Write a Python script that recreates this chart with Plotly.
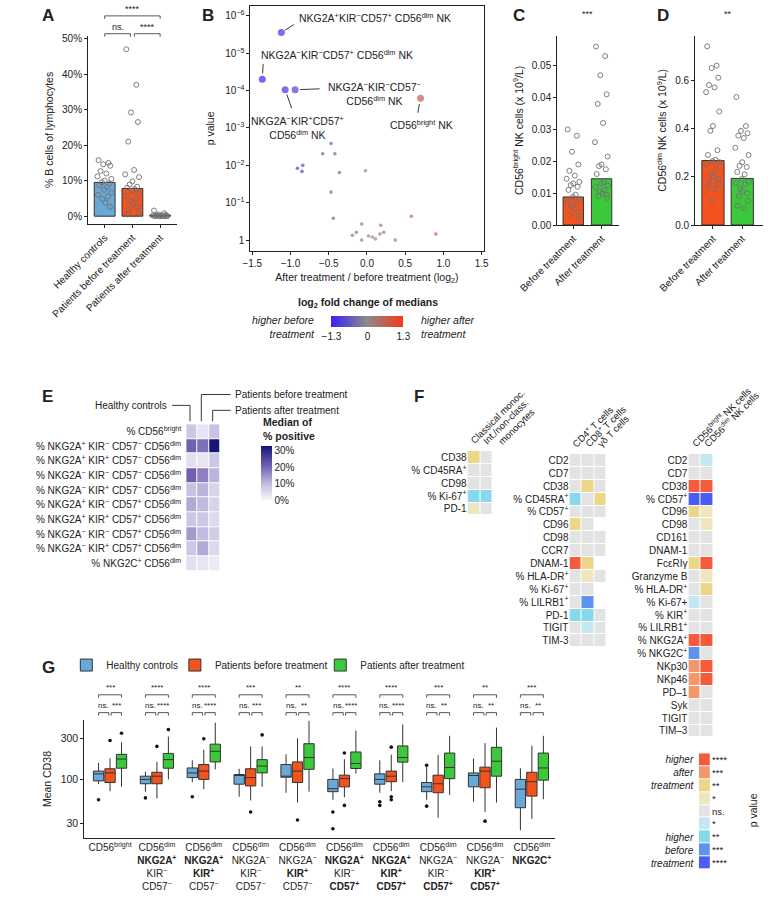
import math
import plotly.graph_objects as go

W, H = 768, 899
FONT = "Liberation Sans, Arial, Helvetica, sans-serif"
INK = "#222222"


def PX(x):
    return x / W


def PY(y):
    return 1 - y / H


def xd(a, b):
    return [a / W, b / W]


def yd(t, b):
    return [1 - b / H, 1 - t / H]


HC_C = "#6aa8d8"
PB_C = "#f5531d"
PA_C = "#3bc93b"
EDGE = "#333333"
PT_C = "#707070"

# ---------------- Panel A data ----------------
A_cats = ["Healthy controls", "Patients before treatment", "Patients after treatment"]
A_bar = [9.5, 7.8, 0.3]
A_hc = [15.8, 15.0, 14.6, 14.2, 12.7, 12.0, 11.2, 10.5, 10.0, 9.6, 9.2, 8.7, 8.2,
        7.4, 6.6, 6.0, 5.5, 4.8, 3.8, 2.6]
A_pb = [47.0, 37.0, 29.2, 26.5, 21.0, 13.0, 11.8, 11.0, 9.8, 8.9, 8.3, 8.0, 7.6,
        7.2, 6.5, 5.8, 5.0, 4.2, 3.4, 2.6, 1.8, 1.0, 0.5]
A_pa = [1.6, 0.8, 0.5, 0.4, 0.3, 0.2, 0.2, 0.1, 0.1, 0.1, 0.0, 0.0, 0.0, 0.0, 0.0]
A_yticks = [0, 10, 20, 30, 40, 50]
A_ytext = ["0%", "10%", "20%", "30%", "40%", "50%"]

# ---------------- Panel B data ----------------
B_fc = [-1.12, -1.37, -1.07, -0.94, 0.70,
        -0.47, -0.58, -0.42, -0.91, -0.84, -0.85, -0.36, -0.02, -0.47, -0.44,
        -0.19, -0.14, -0.07, -0.07, 0.02, 0.07, 0.11, 0.18, 0.17, 0.22, 0.37,
        0.58, 0.90]
B_p = [2.8e-6, 5.0e-5, 9.5e-5, 9.5e-5, 1.6e-4,
       2.6e-3, 4.9e-3, 4.9e-3, 1.2e-2, 1.0e-2, 1.45e-2, 1.55e-2, 1.4e-2, 5.2e-2,
       0.26, 0.74, 0.62, 0.37, 1.0, 0.78, 0.83, 0.93, 0.40, 0.69, 0.62, 1.0,
       0.23, 0.69]
B_labels = [
    "NKG2A<sup>+</sup>KIR<sup>−</sup>CD57<sup>+</sup> CD56<sup>dim</sup> NK",
    "NKG2A<sup>−</sup>KIR<sup>−</sup>CD57<sup>+</sup> CD56<sup>dim</sup> NK",
    "NKG2A<sup>−</sup>KIR<sup>+</sup>CD57<sup>+</sup><br>CD56<sup>dim</sup> NK",
    "NKG2A<sup>−</sup>KIR<sup>−</sup>CD57<sup>−</sup><br>CD56<sup>dim</sup> NK",
    "CD56<sup>bright</sup> NK",
]
B_xticks = [-1.5, -1.0, -0.5, 0.0, 0.5, 1.0, 1.5]
B_xtext = ["−1.5", "−1.0", "−0.5", "0.0", "0.5", "1.0", "1.5"]
B_yticks = [1e-6, 1e-5, 1e-4, 1e-3, 1e-2, 1e-1, 1]
B_ytext = ["10<sup>−6</sup>", "10<sup>−5</sup>", "10<sup>−4</sup>", "10<sup>−3</sup>",
           "10<sup>−2</sup>", "10<sup>−1</sup>", "1"]

# ---------------- Panel C / D data ----------------
CD_cats = ["Before treatment", "After treatment"]
C_bar = [0.0088, 0.0145]
C_before = [0.030, 0.028, 0.023, 0.019, 0.017, 0.0155, 0.0145, 0.0135, 0.013, 0.0125,
            0.012, 0.011, 0.0095, 0.0088, 0.008, 0.0075, 0.007, 0.006, 0.005, 0.004,
            0.003, 0.002]
C_after = [0.056, 0.053, 0.047, 0.041, 0.038, 0.032, 0.026, 0.0215, 0.019, 0.0185,
           0.0175, 0.016, 0.0135, 0.013, 0.0125, 0.012, 0.011, 0.0105, 0.010, 0.0095,
           0.009, 0.0085]
C_yticks = [0, 0.01, 0.02, 0.03, 0.04, 0.05]
C_ytext = ["0.00", "0.01", "0.02", "0.03", "0.04", "0.05"]
D_bar = [0.267, 0.193]
D_before = [0.74, 0.66, 0.65, 0.61, 0.58, 0.57, 0.55, 0.47, 0.41, 0.39, 0.31, 0.29,
            0.27, 0.265, 0.26, 0.25, 0.23, 0.21, 0.20, 0.19, 0.18, 0.17, 0.16, 0.15, 0.10]
D_after = [0.53, 0.41, 0.39, 0.38, 0.37, 0.36, 0.32, 0.29, 0.26, 0.245, 0.24, 0.22,
           0.21, 0.19, 0.18, 0.175, 0.17, 0.15, 0.14, 0.13, 0.12, 0.10, 0.08, 0.07]
D_yticks = [0, 0.2, 0.4, 0.6]
D_ytext = ["0.0", "0.2", "0.4", "0.6"]

# ---------------- Panel E data ----------------
E_rows = [
    "% CD56<sup>bright</sup>",
    "% NKG2A<sup>+</sup> KIR<sup>−</sup> CD57<sup>−</sup> CD56<sup>dim</sup>",
    "% NKG2A<sup>+</sup> KIR<sup>+</sup> CD57<sup>−</sup> CD56<sup>dim</sup>",
    "% NKG2A<sup>−</sup> KIR<sup>−</sup> CD57<sup>−</sup> CD56<sup>dim</sup>",
    "% NKG2A<sup>−</sup> KIR<sup>+</sup> CD57<sup>−</sup> CD56<sup>dim</sup>",
    "% NKG2A<sup>+</sup> KIR<sup>−</sup> CD57<sup>+</sup> CD56<sup>dim</sup>",
    "% NKG2A<sup>+</sup> KIR<sup>+</sup> CD57<sup>+</sup> CD56<sup>dim</sup>",
    "% NKG2A<sup>−</sup> KIR<sup>−</sup> CD57<sup>+</sup> CD56<sup>dim</sup>",
    "% NKG2A<sup>−</sup> KIR<sup>+</sup> CD57<sup>+</sup> CD56<sup>dim</sup>",
    "% NKG2C<sup>+</sup> CD56<sup>dim</sup>",
]
E_cols = ["Healthy controls", "Patients before treatment", "Patients after treatment"]
E_hc = [8, 21, 4, 21, 9, 12, 8, 14, 8, 4]
E_pb = [3, 19, 3, 17, 11, 10, 8, 10, 12, 3]
E_pa = [9, 33, 8, 11, 6, 6, 5, 7, 5, 2]

# ---------------- Panel F data ----------------
F1_cols = ["Classical monoc.", "Int./non-class. monocytes"]
F1_head = [["Classical monoc."], ["Int./non-class.", "monocytes"]]
F1_rows = ["CD38", "% CD45RA<sup>+</sup>", "CD98", "% Ki-67<sup>+</sup>", "PD-1"]
F1_sig = [[2, 0], [0, 0], [0, 0], [-2, -2], [1, 0]]

F2_cols = ["CD4<sup>+</sup> T cells", "CD8<sup>+</sup> T cells", "γδ T cells"]
F2_rows = ["CD2", "CD7", "CD38", "% CD45RA<sup>+</sup>", "% CD57<sup>+</sup>", "CD96",
           "CD98", "CCR7", "DNAM-1", "% HLA-DR<sup>+</sup>", "% Ki-67<sup>+</sup>",
           "% LILRB1<sup>+</sup>", "PD-1", "TIGIT", "TIM-3"]
F2_sig = [[0, 0, 0], [0, 0, 0], [0, 2, 0], [-2, 0, 2], [0, 0, 0], [2, 0, None],
          [0, 0, 0], [0, 0, 0], [4, 2, None], [0, 1, 0], [0, 0, None],
          [0, -3, None], [-2, -2, 0], [0, -1, 0], [0, 0, 0]]

F3_cols = ["CD56<sup>bright</sup> NK cells", "CD56<sup>dim</sup> NK cells"]
F3_rows = ["CD2", "CD7", "CD38", "% CD57<sup>+</sup>", "CD96", "CD98", "CD161",
           "DNAM-1", "FcεRIγ", "Granzyme B", "% HLA-DR<sup>+</sup>", "% Ki-67+",
           "% KIR<sup>+</sup>", "% LILRB1<sup>+</sup>", "% NKG2A<sup>+</sup>",
           "% NKG2C<sup>+</sup>", "NKp30", "NKp46", "PD–1", "Syk", "TIGIT", "TIM–3"]
F3_sig = [[0, -1], [0, 0], [4, 4], [-4, -4], [2, 1], [0, 1], [0, 0], [0, 0],
          [2, 4], [0, 1], [0, 2], [-1, 0], [0, 0], [0, 0], [4, 4], [-3, 0],
          [3, 4], [3, 4], [3, 0], [0, 0], [0, 0], [0, 0]]

SIG_LEVELS = [4, 3, 2, 1, 0, -1, -2, -3, -4]
SIG_TEXT = ["****", "***", "**", "*", "ns.", "*", "**", "***", "****"]
SIG_COLORS = ["#4a5df3", "#5e92ef", "#86d8ea", "#c2e8f0", "#e3e3e3",
              "#efe6bf", "#ecd688", "#f2976a", "#f65a3c"]  # -4 .. +4

# ---------------- Panel G data ----------------
G_labels = [
    "CD56<sup>bright</sup>",
    "CD56<sup>dim</sup><br><b>NKG2A<sup>+</sup></b><br>KIR<sup>−</sup><br>CD57<sup>−</sup>",
    "CD56<sup>dim</sup><br><b>NKG2A<sup>+</sup></b><br><b>KIR<sup>+</sup></b><br>CD57<sup>−</sup>",
    "CD56<sup>dim</sup><br>NKG2A<sup>−</sup><br>KIR<sup>−</sup><br>CD57<sup>−</sup>",
    "CD56<sup>dim</sup><br>NKG2A<sup>−</sup><br><b>KIR<sup>+</sup></b><br>CD57<sup>−</sup>",
    "CD56<sup>dim</sup><br><b>NKG2A<sup>+</sup></b><br>KIR<sup>−</sup><br><b>CD57<sup>+</sup></b>",
    "CD56<sup>dim</sup><br><b>NKG2A<sup>+</sup></b><br><b>KIR<sup>+</sup></b><br><b>CD57<sup>+</sup></b>",
    "CD56<sup>dim</sup><br>NKG2A<sup>−</sup><br>KIR<sup>−</sup><br><b>CD57<sup>+</sup></b>",
    "CD56<sup>dim</sup><br>NKG2A<sup>−</sup><br><b>KIR<sup>+</sup></b><br><b>CD57<sup>+</sup></b>",
    "CD56<sup>dim</sup><br><b>NKG2C<sup>+</sup></b>",
]
G_names = ["Healthy controls", "Patients before treatment", "Patients after treatment"]
G_lo = [[87, 71, 92, 62, 69, 57, 69, 57, 54, 25],
        [72, 59, 76, 56, 53, 61, 72, 35, 41, 34],
        [81, 99, 130, 81, 71, 116, 92, 65, 53, 58]]
G_q1 = [[95, 88, 104, 87, 105, 71, 87, 71, 81, 46],
        [91, 88, 99, 83, 91, 81, 93, 69, 79, 63],
        [134, 134, 159, 118, 130, 133, 158, 101, 108, 97]]
G_med = [[115, 99, 118, 110, 108, 77, 99, 81, 110, 76],
         [118, 108, 124, 104, 124, 101, 108, 88, 124, 93],
         [172, 169, 212, 142, 179, 152, 179, 137, 162, 135]]
G_q3 = [[124, 108, 135, 113, 148, 99, 115, 91, 118, 99],
        [132, 120, 148, 132, 159, 111, 124, 111, 138, 120],
        [195, 200, 257, 169, 260, 208, 245, 202, 236, 202]]
G_hi = [[155, 122, 166, 132, 195, 133, 166, 139, 174, 134],
        [176, 159, 221, 242, 302, 171, 194, 192, 264, 246],
        [271, 316, 460, 242, 482, 371, 439, 322, 402, 322]]
G_out_group = [[0, 1, 2, 5, 5, 6, 6, 7, 7],
               [0, 1, 2, 3, 4, 5, 5, 6, 6, 6, 8],
               [0, 1, 3]]
G_out_val = [[57, 60, 62, 41, 26, 54, 49, 145, 48],
             [284, 242, 297, 41, 33, 202, 49, 237, 62, 57, 32],
             [345, 381, 330]]
G_star_top = ["***", "****", "****", "***", "**", "****", "****", "***", "**", "***"]
G_star_bg = ["***", "****", "****", "***", "**", "****", "****", "**", "**", "**"]

# style constants (jitter pattern for strip points, group offsets)
JIT = [-0.22, 0.14, -0.05, 0.20, -0.15, 0.06, -0.26, 0.24, 0.00, -0.10, 0.17, -0.19,
       0.09, -0.02, 0.25, -0.24, 0.12, -0.08, 0.03, 0.19, -0.13, 0.22, -0.17, 0.07, -0.04]
G_OFF = [-0.245, 0.0, 0.245]
G_COL = [HC_C, PB_C, PA_C]
G_LEG = ["legend", "legend2", "legend3"]
G_LEG_X = [30, 145, 299]

# layout geometry (pixels)
E_X = (157, 193)
E_Y = (425, 573)
F1_X, F1_Y = (455, 482), (452, 517)
F2_X, F2_Y = (563, 602), (455, 650)
F3_X, F3_Y = (689, 715), (455, 741)
FL_X, FL_Y = (700, 713), (757, 874)

fig = go.Figure()


def strip(vals, gi, xa, ya, amp=1.0):
    return go.Scatter(
        x=[gi + amp * JIT[k % len(JIT)] for k in range(len(vals))], y=vals,
        mode="markers", xaxis=xa, yaxis=ya, showlegend=False, hoverinfo="skip",
        marker=dict(symbol="circle-open", size=5, color=PT_C, line=dict(width=0.9)))


# ---- A ----
fig.add_trace(go.Bar(x=[0, 1, 2], y=A_bar, width=0.75, xaxis="x", yaxis="y",
                     marker=dict(color=[HC_C, PB_C, PA_C], line=dict(color=EDGE, width=1)),
                     showlegend=False, hoverinfo="skip"))
for gi, vals in enumerate([A_hc, A_pb, A_pa]):
    fig.add_trace(strip(vals, gi, "x", "y"))

# ---- B ----
B_sizes = [7 if i < len(B_labels) else 3.6 for i in range(len(B_fc))]
B_CS = [[0, "#3a22f5"], [0.5, "#8a8a8a"], [1, "#f5391a"]]
fig.add_trace(go.Scatter(
    x=B_fc, y=B_p, mode="markers", xaxis="x2", yaxis="y2", showlegend=False,
    hoverinfo="skip",
    marker=dict(size=B_sizes, color=B_fc, colorscale=B_CS, cmin=-1.3, cmax=1.3,
                line=dict(width=0), showscale=True,
                colorbar=dict(orientation="h", x=PX(349), xanchor="center",
                              y=PY(316), yanchor="top", len=72, lenmode="pixels",
                              thickness=11, tickvals=[-1.3, 0, 1.3],
                              ticktext=["−1.3", "0", "1.3"], ticks="",
                              outlinewidth=0, xpad=0, ypad=0,
                              tickfont=dict(size=10, color=INK, family=FONT)))))

# ---- C / D ----
fig.add_trace(go.Bar(x=[0, 1], y=C_bar, width=0.72, xaxis="x3", yaxis="y3",
                     marker=dict(color=[PB_C, PA_C], line=dict(color=EDGE, width=1)),
                     showlegend=False, hoverinfo="skip"))
fig.add_trace(strip(C_before, 0, "x3", "y3", 0.9))
fig.add_trace(strip(C_after, 1, "x3", "y3", 0.9))
fig.add_trace(go.Bar(x=[0, 1], y=D_bar, width=0.76, xaxis="x4", yaxis="y4",
                     marker=dict(color=[PB_C, PA_C], line=dict(color=EDGE, width=1)),
                     showlegend=False, hoverinfo="skip"))
fig.add_trace(strip(D_before, 0, "x4", "y4", 0.9))
fig.add_trace(strip(D_after, 1, "x4", "y4", 0.9))

# ---- E ----
E_z = [[a, b, c] for a, b, c in zip(E_hc, E_pb, E_pa)]
E_CS = [[0, "#f7f6fb"], [0.3, "#c2bcdf"], [0.62, "#7463b0"], [1, "#15157a"]]
fig.add_trace(go.Heatmap(
    z=E_z, x=E_cols, y=E_rows, xaxis="x5", yaxis="y5", colorscale=E_CS, zmin=0, zmax=33,
    xgap=1, ygap=1, hoverinfo="skip",
    colorbar=dict(x=PX(236), xanchor="left", y=PY(447), yanchor="top", len=54,
                  lenmode="pixels", thickness=11, tickvals=[0, 10, 20, 30],
                  ticktext=["0%", "10%", "20%", "30%"], ticks="", outlinewidth=0,
                  xpad=0, ypad=0, tickfont=dict(size=10, color=INK, family=FONT))))


# ---- F ----
def dscale(colors):
    n = len(colors)
    cs = []
    for i, c in enumerate(colors):
        cs.append([i / n, c])
        cs.append([(i + 1) / n, c])
    return cs


SIG_CS = dscale(SIG_COLORS)
for cols, rows, sig, xa, ya in [(F1_cols, F1_rows, F1_sig, "x6", "y6"),
                                (F2_cols, F2_rows, F2_sig, "x7", "y7"),
                                (F3_cols, F3_rows, F3_sig, "x8", "y8")]:
    fig.add_trace(go.Heatmap(z=sig, x=cols, y=rows, xaxis=xa, yaxis=ya, colorscale=SIG_CS,
                             zmin=-4.5, zmax=4.5, showscale=False, xgap=1, ygap=1,
                             hoverinfo="skip"))
fig.add_trace(go.Heatmap(z=[[s] for s in SIG_LEVELS], x=["p"], y=list(range(len(SIG_LEVELS))),
                         xaxis="x10", yaxis="y10", colorscale=SIG_CS, zmin=-4.5, zmax=4.5,
                         showscale=False, xgap=1, ygap=1, hoverinfo="skip"))

# ---- G ----
for k in range(3):
    fig.add_trace(go.Box(
        x=[i + G_OFF[k] for i in range(len(G_labels))], q1=G_q1[k], median=G_med[k],
        q3=G_q3[k], lowerfence=G_lo[k], upperfence=G_hi[k], name=G_names[k],
        xaxis="x9", yaxis="y9", width=0.22, whiskerwidth=0, boxpoints=False,
        fillcolor=G_COL[k], line=dict(color=EDGE, width=1), hoverinfo="skip",
        legend=G_LEG[k]))
for k in range(3):
    fig.add_trace(go.Scatter(
        x=[g + G_OFF[k] for g in G_out_group[k]], y=G_out_val[k], mode="markers",
        xaxis="x9", yaxis="y9", showlegend=False, hoverinfo="skip",
        marker=dict(size=3.6, color="#111111")))


# ---------------- axes ----------------
def ax(**kw):
    base = dict(showgrid=False, zeroline=False, showline=True, linecolor=INK, linewidth=1,
                ticks="outside", ticklen=3, tickwidth=1, tickcolor=INK,
                tickfont=dict(size=10, color=INK, family=FONT))
    base.update(kw)
    return base


def hax(**kw):
    base = dict(showgrid=False, zeroline=False, showline=False, ticks="",
                tickfont=dict(size=10, color=INK, family=FONT))
    base.update(kw)
    return base


def ttl(text, standoff=6, size=10.5):
    return dict(text=text, standoff=standoff, font=dict(size=size, color=INK, family=FONT))


layout_axes = dict(
    xaxis=ax(domain=xd(53, 147), range=[-0.6, 2.6], tickvals=[0, 1, 2], ticktext=A_cats,
             tickangle=-45, anchor="y"),
    yaxis=ax(domain=yd(33, 223), range=[-2.2, 50.8], tickvals=A_yticks, ticktext=A_ytext,
             anchor="x", title=ttl("% B cells of lymphocytes", 6)),
    xaxis2=ax(domain=xd(225, 472), range=[-1.525, 1.525], tickvals=B_xticks,
              ticktext=B_xtext, mirror=True, anchor="y2",
              title=ttl("After treatment / before treatment (log<sub>2</sub>)", 5)),
    yaxis2=ax(domain=yd(3, 250), type="log", range=[0.286, -6.265], tickvals=B_yticks,
              ticktext=B_ytext, mirror=True, anchor="x2", title=ttl("p value", 8)),
    xaxis3=ax(domain=xd(550, 615), range=[-0.567, 1.6], tickvals=[0, 1], ticktext=CD_cats,
              tickangle=-45, anchor="y3"),
    yaxis3=ax(domain=yd(33, 224), range=[0, 0.0594], tickvals=C_yticks, ticktext=C_ytext,
              anchor="x3",
              title=ttl("CD56<sup>bright</sup> NK cells (x 10<sup>9</sup>/L)", 6)),
    xaxis4=ax(domain=xd(696, 768), range=[-0.613, 1.71], tickvals=[0, 1], ticktext=CD_cats,
              tickangle=-45, anchor="y4"),
    yaxis4=ax(domain=yd(33, 224), range=[0, 0.784], tickvals=D_yticks, ticktext=D_ytext,
              anchor="x4",
              title=ttl("CD56<sup>dim</sup> NK cells (x 10<sup>9</sup>/L)", 6)),
    xaxis5=hax(domain=xd(*E_X), showticklabels=False, anchor="y5"),
    yaxis5=hax(domain=yd(*E_Y), autorange="reversed", anchor="x5", ticklabelstandoff=4),
    xaxis6=hax(domain=xd(*F1_X), showticklabels=False, anchor="y6"),
    yaxis6=hax(domain=yd(*F1_Y), autorange="reversed", anchor="x6"),
    xaxis7=hax(domain=xd(*F2_X), showticklabels=False, anchor="y7"),
    yaxis7=hax(domain=yd(*F2_Y), autorange="reversed", anchor="x7"),
    xaxis8=hax(domain=xd(*F3_X), showticklabels=False, anchor="y8"),
    yaxis8=hax(domain=yd(*F3_Y), autorange="reversed", anchor="x8"),
    xaxis9=ax(domain=xd(49, 548), range=[-0.55, 9.5], tickvals=list(range(len(G_labels))),
              ticktext=G_labels, ticks="", anchor="y9"),
    yaxis9=ax(domain=yd(723, 843), type="log", range=[math.log10(20), math.log10(500)],
              tickvals=[30, 100, 300], ticktext=["30", "100", "300"], anchor="x9",
              title=ttl("Mean CD38", 6), tickfont=dict(size=10.5, color=INK, family=FONT)),
    xaxis10=hax(domain=xd(*FL_X), showticklabels=False, anchor="y10"),
    yaxis10=hax(domain=yd(*FL_Y), autorange="reversed", side="right", anchor="x10",
                tickvals=list(range(len(SIG_TEXT))), ticktext=SIG_TEXT,
                tickfont=dict(size=9.5, color=INK, family=FONT)),
)

# ---------------- annotations & shapes ----------------
anns = []
shapes = []


def text(x, y, t, size=10, xa="center", ya="middle", xref="paper", yref="paper", **kw):
    d = dict(x=x, y=y, text=t, showarrow=False, xref=xref, yref=yref, xanchor=xa,
             yanchor=ya, font=dict(size=size, color=INK, family=FONT))
    d.update(kw)
    anns.append(d)


def line_px(pts):
    path = "M " + " L ".join(f"{PX(a)},{PY(b)}" for a, b in pts)
    shapes.append(dict(type="path", path=path, xref="paper", yref="paper",
                       line=dict(color=INK, width=0.9)))


# panel letters
for L, x, y in [("A", 2, 1), ("B", 172, 1), ("C", 501, 1), ("D", 654, 1),
                ("E", 2, 385), ("F", 396, 385), ("G", 2, 659)]:
    text(PX(x), PY(y), f"<b>{L}</b>", size=17, xa="left", ya="top")


def bracket(xref, x0, x1, ytop, drop, label, ylabel, size):
    path = (f"M {x0},{PY(ytop + drop)} L {x0},{PY(ytop)} L {x1},{PY(ytop)} "
            f"L {x1},{PY(ytop + drop)}")
    shapes.append(dict(type="path", path=path, xref=xref, yref="paper",
                       line=dict(color="#444444", width=0.9)))
    text((x0 + x1) / 2, PY(ylabel), label, size=size, xref=xref)


# A brackets
bracket("x", 0, 2, 13, 3, "****", 6, 9)
bracket("x", 0, 0.93, 31, 3, "ns.", 24, 9)
bracket("x", 1.07, 2, 31, 3, "****", 24, 9)
# C / D stars
text(0.5, PY(11), "***", size=9, xref="x3")
text(0.5, PY(11), "**", size=9, xref="x4")

# B labels: leader lines anchored to data points + text
B_lead = [(14, -9, 4), (1, -17, 6), (7, 20, 5), (26, -1, 5), (-3, 16, 6)]
B_txt = [(16, 15, "left"), (-3, 25, "left"), (12, -38, "center"), (79, -4, "center"),
         (1, -26, "center")]
for i, lab in enumerate(B_labels):
    lx, ly, so = B_lead[i]
    anns.append(dict(x=B_fc[i], y=math.log10(B_p[i]), xref="x2", yref="y2", text="",
                     showarrow=True, arrowhead=0, arrowwidth=0.9, arrowcolor=INK,
                     ax=lx, ay=ly, standoff=so))
    tx, ty, al = B_txt[i]
    text(B_fc[i], math.log10(B_p[i]), lab, size=10.5, xa=al, xref="x2", yref="y2",
         xshift=tx, yshift=ty, align="center")

# B colourbar texts
text(PX(350), PY(303), "<b>log<sub>2</sub> fold change of medians</b>", size=10.5)
text(PX(296), PY(327), "<i>higher before<br>treatment</i>", size=10.5, xa="right",
     align="right")
text(PX(404), PY(327), "<i>higher after<br>treatment</i>", size=10.5, xa="left",
     align="left")

# E column labels + leader lines
ecw = (E_X[1] - E_X[0]) / 3
ecx = [E_X[0] + ecw * (i + 0.5) - 2 for i in range(3)]
text(PX(139), PY(406), "Healthy controls", size=10, xa="right")
text(PX(207), PY(395), "Patients before treatment", size=10, xa="left")
text(PX(207), PY(411), "Patients after treatment", size=10, xa="left")
line_px([(142, 406), (ecx[0], 406), (ecx[0], E_Y[0] - 3)])
line_px([(204, 395), (ecx[1], 395), (ecx[1], E_Y[0] - 3)])
line_px([(204, 411), (ecx[2], 411), (ecx[2], E_Y[0] - 3)])
text(PX(236), PY(430), "<b>Median of<br>% positive</b>", size=10.5, xa="left",
     align="left")


# F column headers (rotated 45 degrees, starting just above each column)
def headers(xr, ytop, heads):
    cw = (xr[1] - xr[0]) / len(heads)
    for i, lines in enumerate(heads):
        for j, ln in enumerate(lines):
            x0 = xr[0] + cw * (i + 0.5) - 9 + 16 * j
            text(PX(x0), PY(ytop - 2), ln, size=9.5, xa="left", ya="bottom", textangle=-45)


headers(F1_X, F1_Y[0], F1_head)
headers(F2_X, F2_Y[0], [[c] for c in F2_cols])
headers(F3_X, F3_Y[0], [[c] for c in F3_cols])

# F legend texts
text(PX(697), PY(776), "<i>higher<br>after<br>treatment</i>", size=10, xa="right",
     align="right")
text(PX(697), PY(855), "<i>higher<br>before<br>treatment</i>", size=10, xa="right",
     align="right")
text(PX(757), PY(815), "p value", size=10.5, textangle=-90)

# G brackets
for i in range(len(G_labels)):
    bracket("x9", i + G_OFF[0], i + G_OFF[2], 698, 3, G_star_top[i], 691, 8)
    bracket("x9", i + G_OFF[0], i - 0.025, 716, 3, "ns.", 709, 8)
    bracket("x9", i + 0.025, i + G_OFF[2], 716, 3, G_star_bg[i], 709, 8)

legends = {}
for k, name in enumerate(G_LEG):
    legends[name] = dict(orientation="h", x=PX(G_LEG_X[k]), y=PY(668), xanchor="left",
                         yanchor="middle", bgcolor="rgba(0,0,0,0)", borderwidth=0,
                         font=dict(size=10, color=INK, family=FONT), itemwidth=30)

fig.update_layout(
    width=W, height=H, margin=dict(l=0, r=0, t=0, b=0),
    paper_bgcolor="white", plot_bgcolor="white",
    font=dict(family=FONT, size=10, color=INK),
    annotations=anns, shapes=shapes,
    showlegend=True, hovermode=False,
    **legends,
    **layout_axes,
)

fig.write_html("out.html",
               config={"displayModeBar": False, "staticPlot": True},
               post_script="document.body.style.margin='0px';"
                           "document.body.style.overflow='hidden';")
